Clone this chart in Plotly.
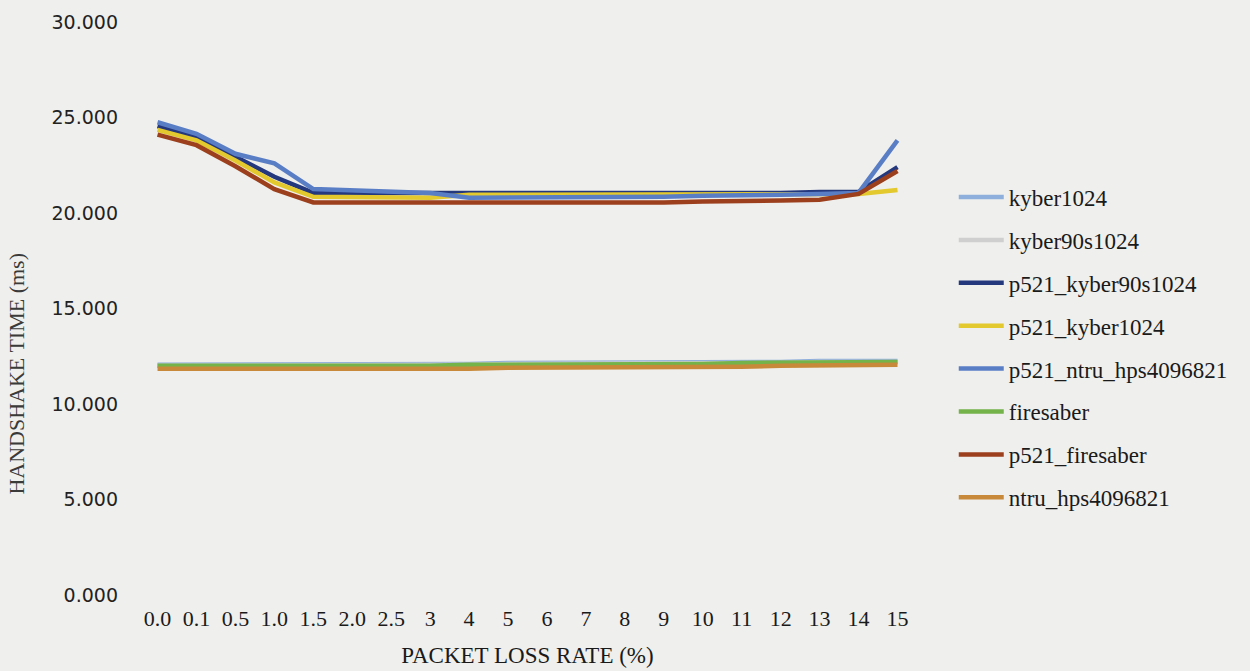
import plotly.graph_objects as go

categories = ["0.0", "0.1", "0.5", "1.0", "1.5", "2.0", "2.5", "3", "4", "5",
              "6", "7", "8", "9", "10", "11", "12", "13", "14", "15"]

kyber1024 = [12.05, 12.05, 12.05, 12.05, 12.05, 12.05, 12.1, 12.1, 12.1, 12.15,
             12.15, 12.15, 12.15, 12.2, 12.2, 12.2, 12.2, 12.25, 12.25, 12.25]
kyber90s1024 = [12.0, 12.0, 12.0, 12.0, 12.0, 12.05, 12.05, 12.05, 12.05, 12.1,
                12.1, 12.1, 12.1, 12.15, 12.15, 12.15, 12.15, 12.2, 12.2, 12.2]
p521_kyber90s1024 = [24.55, 23.95, 22.95, 21.9, 21.05, 21.05, 21.0, 21.0, 21.0, 21.0,
                     21.0, 21.0, 21.05, 21.05, 21.05, 21.05, 21.05, 21.1, 21.1, 22.4]
p521_kyber1024 = [24.35, 23.8, 22.75, 21.6, 20.85, 20.85, 20.85, 20.8, 20.95, 20.95,
                  20.95, 20.95, 20.95, 20.95, 20.95, 20.95, 20.95, 21.0, 21.0, 21.2]
p521_ntru_hps4096821 = [24.75, 24.15, 23.1, 22.6, 21.25, 21.2, 21.15, 21.05, 20.8, 20.8,
                        20.8, 20.8, 20.85, 20.85, 20.9, 20.9, 20.95, 21.0, 21.05, 23.8]
firesaber = [12.0, 12.0, 11.98, 11.98, 12.0, 12.0, 12.0, 12.0, 12.05, 12.05,
             12.05, 12.1, 12.1, 12.1, 12.1, 12.15, 12.15, 12.15, 12.2, 12.2]
p521_firesaber = [24.1, 23.55, 22.45, 21.25, 20.55, 20.55, 20.5, 20.5, 20.5, 20.5,
                  20.55, 20.55, 20.55, 20.55, 20.6, 20.6, 20.65, 20.7, 21.0, 22.2]
ntru_hps4096821 = [11.85, 11.85, 11.8, 11.8, 11.8, 11.85, 11.85, 11.85, 11.85, 11.9,
                   11.9, 11.9, 11.9, 11.95, 11.95, 11.95, 12.0, 12.0, 12.05, 12.05]

series = [
    ("kyber1024", kyber1024, "#8eaedb"),
    ("kyber90s1024", kyber90s1024, "#cfcfcf"),
    ("p521_kyber90s1024", p521_kyber90s1024, "#24387e"),
    ("p521_kyber1024", p521_kyber1024, "#e3c82e"),
    ("p521_ntru_hps4096821", p521_ntru_hps4096821, "#5a7ec6"),
    ("firesaber", firesaber, "#74b24a"),
    ("p521_firesaber", p521_firesaber, "#9b3f1c"),
    ("ntru_hps4096821", ntru_hps4096821, "#c88a3a"),
]

SERIF = "Liberation Serif, Times New Roman, serif"
BG = "#efefed"

fig = go.Figure()
for name, vals, color in series:
    fig.add_trace(go.Scatter(
        x=categories, y=vals, mode="lines", name=name, legendgroup=name,
        line=dict(color=color, width=4.5),
    ))

fig.update_layout(
    width=1250, height=671,
    margin=dict(l=140, r=335, t=22, b=76),
    paper_bgcolor=BG, plot_bgcolor=BG,
    font=dict(family=SERIF, color="#1a1a1a"),
    showlegend=True,
    legend=dict(
        x=1.05, xanchor="left", y=0.732, yanchor="top",
        font=dict(family=SERIF, size=23, color="#1a1a1a"),
        bgcolor="rgba(0,0,0,0)", traceorder="grouped", tracegroupgap=10,
        itemwidth=45,
    ),
    xaxis=dict(
        type="category", range=[-0.45, 19.45], automargin=False,
        showgrid=False, zeroline=False, showline=False, ticks="",
        ticklabelstandoff=8,
        tickfont=dict(family=SERIF, size=22, color="#1a1a1a"),
        title=dict(text="PACKET LOSS RATE (%)",
                   font=dict(family=SERIF, size=23, color="#1a1a1a"), standoff=16),
    ),
    yaxis=dict(
        range=[0, 30], tickvals=[0, 5, 10, 15, 20, 25, 30], automargin=False,
        tickformat=".3f",
        showgrid=False, zeroline=False, showline=False, ticks="",
        ticklabelstandoff=21,
        tickfont=dict(family="DejaVu Sans, Verdana, sans-serif", size=19, color="#222222"),
    ),
    annotations=[dict(
        text="HANDSHAKE TIME (ms)", textangle=-90,
        xref="paper", yref="paper", x=-0.159, y=0.386,
        xanchor="center", yanchor="middle", showarrow=False,
        font=dict(family=SERIF, size=22, color="#3a3a3a"),
    )],
)

fig.write_html(
    "out.html",
    config={"displayModeBar": False},
    post_script="document.body.style.margin='0';document.body.style.background='%s';" % BG,
)
